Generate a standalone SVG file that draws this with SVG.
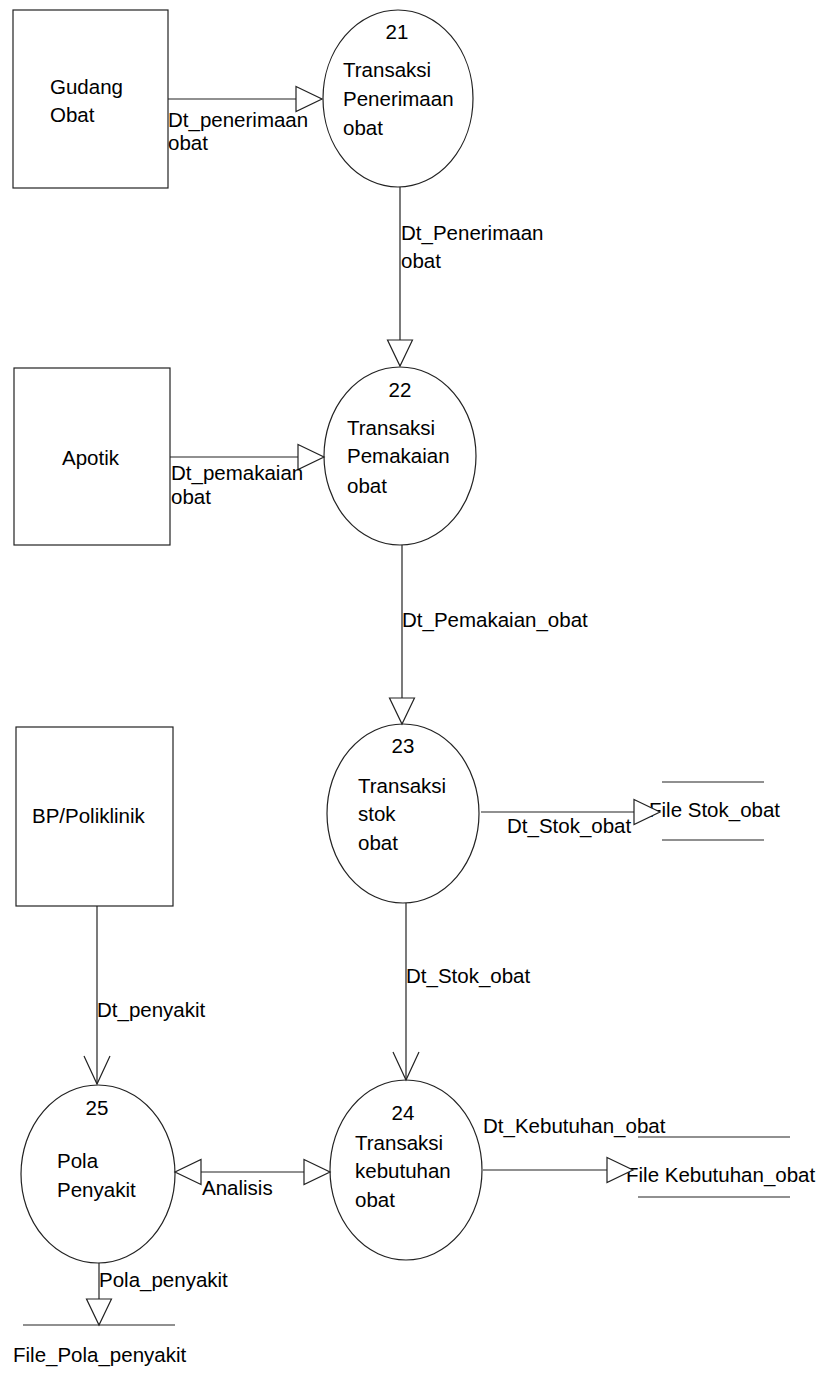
<svg xmlns="http://www.w3.org/2000/svg" width="826" height="1383" viewBox="0 0 826 1383">
<style>
  .box { fill: #fff; stroke: #222; stroke-width: 1.2; }
  .proc { fill: #fff; stroke: #222; stroke-width: 1.2; }
  .store { stroke: #222; stroke-width: 1.2; fill: none; }
  .flow { stroke: #222; stroke-width: 1.2; fill: none; }
  text { font-family: "Liberation Sans", Arial, sans-serif; font-size: 20.5px; fill: #000; }
  .c { text-anchor: middle; }
</style>
<defs>
  <marker id="tri" markerUnits="userSpaceOnUse" markerWidth="30" markerHeight="30" refX="26" refY="12.5" orient="auto-start-reverse" overflow="visible">
    <path d="M0,0 L26,12.5 L0,25 Z" fill="#fff" stroke="#222" stroke-width="1.2"/>
  </marker>
  <marker id="vee" markerUnits="userSpaceOnUse" markerWidth="30" markerHeight="30" refX="28" refY="13" orient="auto" overflow="visible">
    <path d="M0,0 L28,13 L0,26" fill="none" stroke="#222" stroke-width="1.2"/>
  </marker>
</defs>

<g id="gudang-obat">
  <rect class="box" x="13" y="10" width="155" height="178"/>
  <text x="50" y="94">Gudang</text>
  <text x="50" y="122">Obat</text>
</g>
<g id="apotik">
  <rect class="box" x="14" y="368" width="156" height="177"/>
  <text x="62" y="465">Apotik</text>
</g>
<g id="bp-poliklinik">
  <rect class="box" x="16" y="727" width="157" height="179"/>
  <text x="32" y="823">BP/Poliklinik</text>
</g>

<g id="p21">
  <ellipse class="proc" cx="398" cy="98.5" rx="75" ry="88.5"/>
  <text class="c" x="397" y="39">21</text>
  <text x="343" y="77">Transaksi</text>
  <text x="343" y="106">Penerimaan</text>
  <text x="343" y="135">obat</text>
</g>
<g id="p22">
  <ellipse class="proc" cx="400" cy="456" rx="76" ry="89"/>
  <text class="c" x="400" y="397">22</text>
  <text x="347" y="435">Transaksi</text>
  <text x="347" y="463">Pemakaian</text>
  <text x="347" y="493">obat</text>
</g>
<g id="p23">
  <ellipse class="proc" cx="403" cy="813.5" rx="76" ry="89.5"/>
  <text class="c" x="403" y="753">23</text>
  <text x="358" y="793">Transaksi</text>
  <text x="358" y="821">stok</text>
  <text x="358" y="850">obat</text>
</g>
<g id="p24">
  <ellipse class="proc" cx="406" cy="1170" rx="76" ry="90"/>
  <text class="c" x="403" y="1120">24</text>
  <text x="355" y="1150">Transaksi</text>
  <text x="355" y="1178">kebutuhan</text>
  <text x="355" y="1207">obat</text>
</g>
<g id="p25">
  <ellipse class="proc" cx="98" cy="1174" rx="77" ry="89"/>
  <text class="c" x="97" y="1115">25</text>
  <text x="57" y="1168">Pola</text>
  <text x="57" y="1197">Penyakit</text>
</g>

<g id="store-stok">
  <line class="store" x1="662" y1="782" x2="764" y2="782"/>
  <line class="store" x1="662" y1="840" x2="764" y2="840"/>
  <text x="649" y="817">File Stok_obat</text>
</g>
<g id="store-kebutuhan">
  <line class="store" x1="638" y1="1137" x2="790" y2="1137"/>
  <line class="store" x1="638" y1="1197" x2="790" y2="1197"/>
  <text x="626" y="1182">File Kebutuhan_obat</text>
</g>
<g id="store-pola">
  <line class="store" x1="23" y1="1325" x2="175" y2="1325"/>
  <text x="13" y="1362">File_Pola_penyakit</text>
</g>

<g id="connectors">
  <path class="flow" d="M168,99 L322,99" marker-end="url(#tri)"/>
  <text x="168" y="127">Dt_penerimaan</text>
  <text x="168" y="150">obat</text>

  <path class="flow" d="M400,187 L400,366" marker-end="url(#tri)"/>
  <text x="401" y="240">Dt_Penerimaan</text>
  <text x="401" y="268">obat</text>

  <path class="flow" d="M170,457 L324,457" marker-end="url(#tri)"/>
  <text x="171" y="480">Dt_pemakaian</text>
  <text x="171" y="504">obat</text>

  <path class="flow" d="M402,545 L402,724" marker-end="url(#tri)"/>
  <text x="402" y="627">Dt_Pemakaian_obat</text>

  <path class="flow" d="M481,812 L660,812" marker-end="url(#tri)"/>
  <text x="507" y="833">Dt_Stok_obat</text>

  <path class="flow" d="M406,903 L406,1080" marker-end="url(#vee)"/>
  <text x="406" y="983">Dt_Stok_obat</text>

  <path class="flow" d="M483,1170 L633,1170" marker-end="url(#tri)"/>
  <text x="483" y="1133">Dt_Kebutuhan_obat</text>

  <path class="flow" d="M175,1172 L330,1172" marker-start="url(#tri)" marker-end="url(#tri)"/>
  <text x="202" y="1195">Analisis</text>

  <path class="flow" d="M97,906 L97,1084" marker-end="url(#vee)"/>
  <text x="97" y="1017">Dt_penyakit</text>

  <path class="flow" d="M99,1263 L99,1325" marker-end="url(#tri)"/>
  <text x="99" y="1287">Pola_penyakit</text>
</g>
</svg>
